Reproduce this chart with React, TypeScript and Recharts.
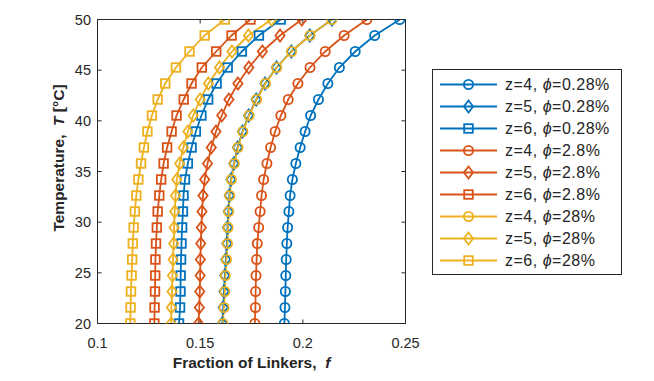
import React from 'react';
import { LineChart, Line, XAxis, YAxis, Legend } from 'recharts';

const temperatures = [
  20, 21.5789, 23.1579, 24.7368, 26.3158, 27.8947, 29.4737, 31.0526, 32.6316, 34.2105,
  35.7895, 37.3684, 38.9474, 40.5263, 42.1053, 43.6842, 45.2632, 46.8421, 48.4211, 50,
];

const fZ4Phi028 = [0.1910, 0.1913, 0.1915, 0.1917, 0.1919, 0.1922, 0.1926, 0.1932, 0.1938, 0.1949, 0.1966, 0.1987, 0.2011, 0.2038, 0.2076, 0.2122, 0.2178, 0.2255, 0.2350, 0.2472];
const fZ5Phi028 = [0.1608, 0.1612, 0.1616, 0.1620, 0.1625, 0.1630, 0.1633, 0.1637, 0.1642, 0.1650, 0.1664, 0.1682, 0.1706, 0.1736, 0.1773, 0.1816, 0.1872, 0.1944, 0.2034, 0.2142];
const fZ6Phi028 = [0.1397, 0.1402, 0.1404, 0.1405, 0.1407, 0.1409, 0.1412, 0.1416, 0.1419, 0.1426, 0.1440, 0.1458, 0.1479, 0.1506, 0.1539, 0.1580, 0.1634, 0.1703, 0.1786, 0.1892];
const fZ4Phi28 = [0.1766, 0.1769, 0.1770, 0.1772, 0.1775, 0.1778, 0.1785, 0.1792, 0.1799, 0.1809, 0.1825, 0.1843, 0.1865, 0.1893, 0.1929, 0.1976, 0.2035, 0.2109, 0.2201, 0.2312];
const fZ5Phi28 = [0.1492, 0.1496, 0.1498, 0.1500, 0.1501, 0.1503, 0.1506, 0.1509, 0.1514, 0.1522, 0.1536, 0.1554, 0.1577, 0.1605, 0.1640, 0.1684, 0.1737, 0.1803, 0.1889, 0.1995];
const fZ6Phi28 = [0.1277, 0.1278, 0.1280, 0.1281, 0.1282, 0.1285, 0.1289, 0.1293, 0.1301, 0.1310, 0.1322, 0.1339, 0.1361, 0.1385, 0.1420, 0.1458, 0.1508, 0.1578, 0.1653, 0.1745];
const fZ4Phi280 = [0.1611, 0.1616, 0.1620, 0.1623, 0.1628, 0.1633, 0.1636, 0.1639, 0.1644, 0.1652, 0.1666, 0.1684, 0.1708, 0.1738, 0.1775, 0.1818, 0.1873, 0.1945, 0.2035, 0.2141];
const fZ5Phi280 = [0.1359, 0.1360, 0.1363, 0.1365, 0.1368, 0.1371, 0.1373, 0.1376, 0.1380, 0.1386, 0.1400, 0.1418, 0.1440, 0.1466, 0.1500, 0.1540, 0.1594, 0.1655, 0.1735, 0.1848];
const fZ6Phi280 = [0.1160, 0.1161, 0.1163, 0.1166, 0.1169, 0.1172, 0.1176, 0.1182, 0.1189, 0.1199, 0.1212, 0.1226, 0.1243, 0.1265, 0.1293, 0.1330, 0.1382, 0.1448, 0.1522, 0.1620];

const zLabels = ['z=4', 'z=5', 'z=6', 'z=4', 'z=5', 'z=6', 'z=4', 'z=5', 'z=6'];
const phiLabels = ['0.28%', '0.28%', '0.28%', '2.8%', '2.8%', '2.8%', '28%', '28%', '28%'];
const xTicks = [0.1, 0.15, 0.2, 0.25];
const yTicks = [20, 25, 30, 35, 40, 45, 50];

const BLUE = '#0072BD';
const ORANGE = '#D95319';
const YELLOW = '#EDB120';
const FONT = '"Liberation Sans", Arial, Helvetica, sans-serif';
const TEXT = '#262626';
const LW = 1.8;

type MarkerKind = 'circle' | 'diamond' | 'square';

const seriesValues = [fZ4Phi028, fZ5Phi028, fZ6Phi028, fZ4Phi28, fZ5Phi28, fZ6Phi28, fZ4Phi280, fZ5Phi280, fZ6Phi280];
const seriesColors = [BLUE, BLUE, BLUE, ORANGE, ORANGE, ORANGE, YELLOW, YELLOW, YELLOW];
const seriesMarkers: MarkerKind[] = ['circle', 'diamond', 'square', 'circle', 'diamond', 'square', 'circle', 'diamond', 'square'];

const series = seriesValues.map((vals, i) => ({
  id: `s${i}`,
  z: zLabels[i],
  phi: phiLabels[i],
  color: seriesColors[i],
  marker: seriesMarkers[i],
  data: temperatures.map((T, j) => ({ T, f: vals[j] })),
}));

function Marker({ kind, cx, cy, color }: { kind: MarkerKind; cx: number; cy: number; color: string }) {
  if (cx == null || cy == null || isNaN(cx) || isNaN(cy)) return null;
  if (kind === 'circle') {
    return <circle cx={cx} cy={cy} r={4.6} fill="none" stroke={color} strokeWidth={LW} />;
  }
  if (kind === 'diamond') {
    const w = 4.6, h = 6;
    return (
      <polygon
        points={`${cx},${cy - h} ${cx + w},${cy} ${cx},${cy + h} ${cx - w},${cy}`}
        fill="none"
        stroke={color}
        strokeWidth={LW}
      />
    );
  }
  const s = 4.3;
  return <rect x={cx - s} y={cy - s} width={2 * s} height={2 * s} fill="none" stroke={color} strokeWidth={LW} />;
}

function LegendBox() {
  const rowH = 22;
  return (
    <svg width={191} height={207} style={{ display: 'block' }}>
      <rect x={0.5} y={0.5} width={189} height={205} fill="#fff" stroke={TEXT} strokeWidth={1} />
      {series.map((s, i) => {
        const cy = 15.5 + i * rowH;
        return (
          <g key={s.id}>
            <line x1={8} x2={65} y1={cy} y2={cy} stroke={s.color} strokeWidth={LW} />
            <Marker kind={s.marker} cx={36.5} cy={cy} color={s.color} />
            <text x={73} y={cy} dy="0.36em" fontSize={16} letterSpacing={0.5} fontFamily={FONT} fill={TEXT}>
              {`${s.z}, `}
              <tspan fontStyle="italic">ϕ</tspan>
              {`=${s.phi}`}
            </text>
          </g>
        );
      })}
    </svg>
  );
}

function XLabel(props: any) {
  const vb = props.viewBox || { x: 97.5, width: 308, y: 323.5 };
  const cx = vb.x + vb.width / 2;
  return (
    <text x={cx} y={368} textAnchor="middle" fontSize={15.5} fontWeight="bold" fontFamily={FONT} fill={TEXT}>
      Fraction of Linkers,{'\u00a0\u00a0'}
      <tspan fontStyle="italic">f</tspan>
    </text>
  );
}

function YLabel() {
  const x = 58;
  const y = 158;
  return (
    <text
      x={x}
      y={y}
      transform={`rotate(-90 ${x} ${y})`}
      textAnchor="middle"
      dy="0.36em"
      fontSize={15.5}
      fontWeight="bold"
      fontFamily={FONT}
      fill={TEXT}
    >
      Temperature,{'\u00a0\u00a0'}
      <tspan fontStyle="italic">T</tspan>
      {' [°C]'}
    </text>
  );
}

const tickStyle = { fill: TEXT, fontSize: 14.5, fontFamily: FONT };
const axisStroke = { stroke: TEXT, strokeWidth: 1 };

export default function App() {
  return (
    <div style={{ position: 'absolute', left: 0, top: 0, width: 654, height: 381, background: '#fff' }}>
      <LineChart width={654} height={381} margin={{ top: 18.5, right: 247.5, bottom: 0, left: 0 }}>
        <XAxis
          xAxisId="bottom"
          orientation="bottom"
          dataKey="f"
          type="number"
          domain={[0.1, 0.25]}
          ticks={xTicks}
          allowDataOverflow
          interval={0}
          height={57.5}
          tickSize={-4}
          tickMargin={18.5}
          tick={tickStyle}
          axisLine={axisStroke}
          tickLine={axisStroke}
          label={<XLabel />}
        />
        <XAxis
          xAxisId="top"
          orientation="top"
          dataKey="f"
          type="number"
          domain={[0.1, 0.25]}
          ticks={xTicks}
          allowDataOverflow
          interval={0}
          height={1}
          tickSize={-4}
          tick={{ fontSize: 0 }}
          tickFormatter={() => ''}
          axisLine={axisStroke}
          tickLine={axisStroke}
        />
        <YAxis
          yAxisId="left"
          orientation="left"
          type="number"
          domain={[20, 50]}
          ticks={yTicks}
          allowDataOverflow
          interval={0}
          width={97.5}
          tickSize={-4}
          tickMargin={10.5}
          tick={tickStyle}
          axisLine={axisStroke}
          tickLine={axisStroke}
          label={<YLabel />}
        />
        <YAxis
          yAxisId="right"
          orientation="right"
          type="number"
          domain={[20, 50]}
          ticks={yTicks}
          allowDataOverflow
          interval={0}
          width={1}
          tickSize={-4}
          tick={{ fontSize: 0 }}
          tickFormatter={() => ''}
          axisLine={axisStroke}
          tickLine={axisStroke}
        />
        {series.map((s) => (
          <Line
            key={s.id}
            name={`${s.z}, ϕ=${s.phi}`}
            data={s.data}
            dataKey="T"
            xAxisId="bottom"
            yAxisId="left"
            type="linear"
            stroke={s.color}
            strokeWidth={LW}
            isAnimationActive={false}
            dot={(p: any) => <Marker key={`${s.id}-${p.index}`} kind={s.marker} cx={p.cx} cy={p.cy} color={s.color} />}
            activeDot={false}
          />
        ))}
        <Legend
          layout="vertical"
          align="center"
          verticalAlign="middle"
          wrapperStyle={{ left: 432, top: 69, width: 191, height: 207 }}
          content={() => <LegendBox />}
        />
      </LineChart>
    </div>
  );
}
